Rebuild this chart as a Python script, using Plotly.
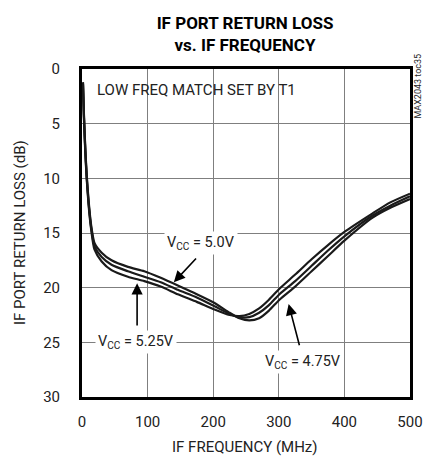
import plotly.graph_objects as go

# IF frequency (MHz)
freq = [1.5, 3, 5, 7, 10, 14, 19, 30, 45, 70, 95, 120, 146, 175, 202, 225, 240,
        255, 270, 285, 301, 325, 350, 375, 400, 443, 470, 500]

# IF port return loss (dB)
rl_475 = [1.2, 4.2, 7.2, 9.5, 12.0, 14.3, 15.9, 16.8, 17.5, 18.1, 18.5, 19.1, 19.8,
          20.6, 21.4, 22.3, 22.8, 23.0, 22.8, 22.1, 21.1, 19.9, 18.5, 17.1, 15.7,
          13.6, 12.7, 11.9]
rl_500 = [1.3, 4.4, 7.4, 9.7, 12.2, 14.5, 16.2, 17.2, 17.9, 18.5, 19.0, 19.5, 20.2,
          20.9, 21.7, 22.4, 22.7, 22.7, 22.3, 21.6, 20.6, 19.4, 18.0, 16.6, 15.3,
          13.4, 12.5, 11.65]
rl_525 = [1.4, 4.6, 7.6, 9.9, 12.4, 14.7, 16.5, 17.6, 18.4, 19.0, 19.4, 19.9, 20.6,
          21.3, 22.0, 22.5, 22.6, 22.4, 21.9, 21.1, 20.1, 18.8, 17.4, 16.1, 14.9,
          13.2, 12.2, 11.4]

x_ticks = [0, 100, 200, 300, 400, 500]
y_ticks = [0, 5, 10, 15, 20, 25, 30]

FONT = "Roboto, Liberation Sans, sans-serif"

fig = go.Figure()
for ys, name in [(rl_475, "VCC = 4.75V"), (rl_500, "VCC = 5.0V"), (rl_525, "VCC = 5.25V")]:
    fig.add_trace(go.Scatter(x=freq, y=ys, mode="lines", name=name,
                             line=dict(color="#1a1a1a", width=2.2, shape="spline", smoothing=0.6),
                             showlegend=False))

axis_common = dict(showline=True, linecolor="black", linewidth=3, mirror=True,
                   showgrid=True, gridcolor="#7f7f7f", gridwidth=1, zeroline=False,
                   ticks="outside", tickcolor="rgba(0,0,0,0)", automargin=False,
                   tickfont=dict(family=FONT, size=15, color="#222"))

fig.update_xaxes(range=[0, 500], tickvals=x_ticks, ticklen=9, **axis_common)
fig.update_yaxes(range=[30, 0], tickvals=y_ticks, ticklen=16, **axis_common)

ann = []
txt = dict(family=FONT, size=14.5, color="#222")
ann.append(dict(x=20, y=1.9, xref="x", yref="y", text="LOW FREQ MATCH SET BY T1",
                showarrow=False, xanchor="left", yanchor="middle",
                font=dict(family=FONT, size=15, color="#222")))
ann.append(dict(x=181, y=15.9, xref="x", yref="y", text="V<sub>CC</sub> = 5.0V",
                showarrow=False, bgcolor="white", borderpad=2, font=txt,
                xanchor="center", yanchor="middle"))
ann.append(dict(x=82, y=25.0, xref="x", yref="y", text="V<sub>CC</sub> = 5.25V",
                showarrow=False, bgcolor="white", borderpad=2, font=txt,
                xanchor="center", yanchor="middle"))
ann.append(dict(x=337, y=26.8, xref="x", yref="y", text="V<sub>CC</sub> = 4.75V",
                showarrow=False, bgcolor="white", borderpad=2, font=txt,
                xanchor="center", yanchor="middle"))
# arrows
for tip, tail in [((140, 19.5), (176, 17.2)), ((84, 19.6), (84, 23.6)), ((315, 21.5), (332, 25.4))]:
    ann.append(dict(x=tip[0], y=tip[1], ax=tail[0], ay=tail[1], xref="x", yref="y",
                    axref="x", ayref="y", text="", showarrow=True, arrowhead=2,
                    arrowsize=1.4, arrowwidth=1.6, arrowcolor="black"))
# axis titles
ann.append(dict(x=-0.189, y=0.5, xref="paper", yref="paper", text="IF PORT RETURN LOSS (dB)",
                showarrow=False, textangle=-90, xanchor="center", yanchor="middle",
                font=dict(family=FONT, size=15, color="#222")))
ann.append(dict(x=0.497, y=-0.152, xref="paper", yref="paper", text="IF FREQUENCY (MHz)",
                showarrow=False, xanchor="center", yanchor="middle",
                font=dict(family=FONT, size=15, color="#222")))
ann.append(dict(x=1.026, y=0.948, xref="paper", yref="paper", text="MAX2043 toc35",
                showarrow=False, textangle=-90, xanchor="center", yanchor="middle",
                font=dict(family=FONT, size=9, color="#222")))

fig.update_layout(
    width=425, height=458,
    margin=dict(l=82, r=15, t=69, b=61, autoexpand=False),
    paper_bgcolor="white", plot_bgcolor="white",
    title=dict(text="<b>IF PORT RETURN LOSS<br>vs. IF FREQUENCY</b>", x=245 / 425, xanchor="center",
               y=(458 - 29) / 458, yanchor="middle", yref="container",
               font=dict(family=FONT, size=17, color="black")),
    annotations=ann,
)

fig.write_html("out.html", config={"displayModeBar": False},
               post_script="document.body.style.margin='0';document.body.style.overflow='hidden';")
